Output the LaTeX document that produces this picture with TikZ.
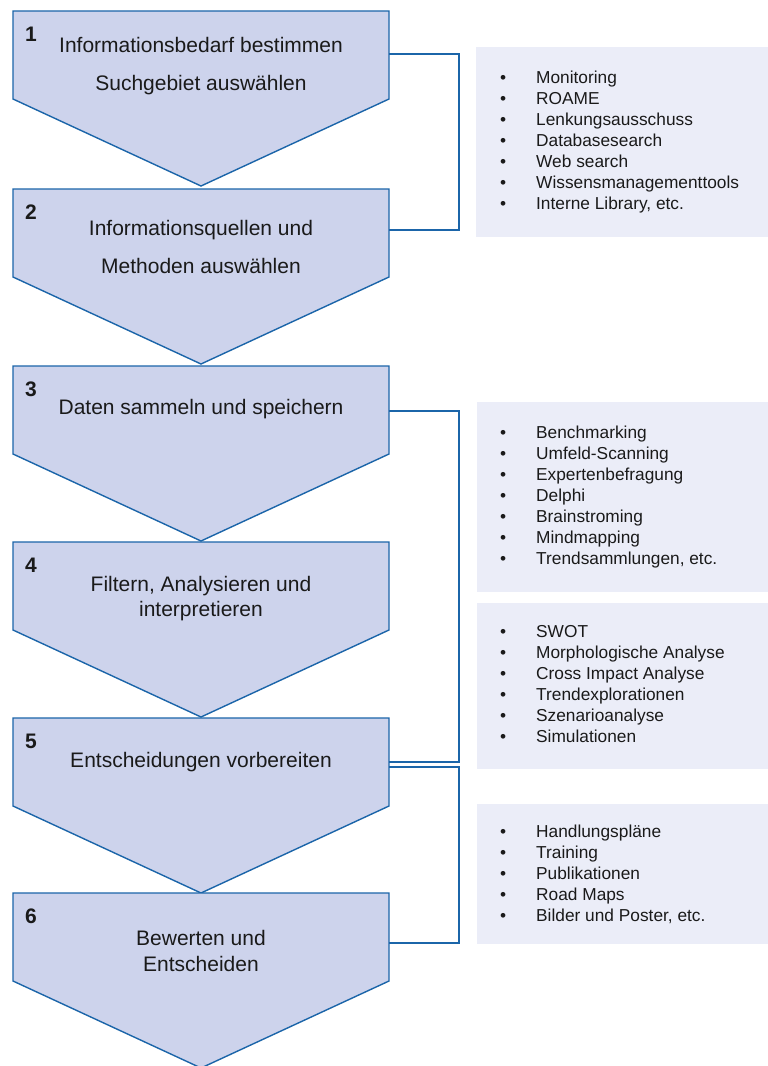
\documentclass[tikz,border=0pt]{standalone}
\usepackage{fontspec}
\setmainfont{Liberation Sans}
\definecolor{chevfill}{HTML}{CDD3EC}
\definecolor{chevline}{HTML}{1B65A9}
\definecolor{boxfill}{HTML}{EBEDF8}
\definecolor{ink}{HTML}{1A1A1A}
\tikzset{
  chev/.style={fill=chevfill, draw=chevline, line width=1.4pt, line join=miter},
  conn/.style={draw=chevline, line width=2pt},
  steplabel/.style={inner sep=0pt, text=ink, align=center, font=\fontsize{21}{25.5}\selectfont},
  widelabel/.style={steplabel, font=\fontsize{21}{38}\selectfont},
  stepnum/.style={inner sep=0pt, text=ink, font=\fontsize{21}{25}\selectfont\bfseries},
  listbox/.style={fill=boxfill, draw=none, inner sep=0pt, anchor=north west},
  listtext/.style={inner sep=0pt, anchor=west, text=ink, align=left, font=\fontsize{17.3}{21}\selectfont},
}
% one process step: arrow-shaped pentagon with its number
\newcommand\procstep[3]{% name, top edge, number
  \draw[chev] (13,#2) -- (389,#2) -- (389,{#2+88}) -- (201,{#2+175}) -- (13,{#2+88}) -- cycle;
  \node[stepnum] (#1num) at (31,{#2+23}) {#3};
}
\newcommand\itemlist[1]{\begin{tabular}{@{}p{36pt}@{}l@{}}#1\end{tabular}}
\begin{document}
\begin{tikzpicture}[x=1pt,y=-1pt]
\useasboundingbox (0,0) rectangle (768,1066);
\fill[white] (0,0) rectangle (768,1066);

% process steps
\procstep{s1}{11}{1}
\procstep{s2}{189}{2}
\procstep{s3}{366}{3}
\procstep{s4}{542}{4}
\procstep{s5}{718}{5}
\procstep{s6}{893}{6}

\node[widelabel] (t1) at (201,66.5) {Informationsbedarf bestimmen\\Suchgebiet auswählen};
\node[widelabel] (t2) at (201,246.5) {Informationsquellen und\\Methoden auswählen};
\node[steplabel] (t3) at (201,409) {Daten sammeln und speichern};
\node[steplabel] (t4) at (201,598.5) {Filtern, Analysieren und\\interpretieren};
\node[steplabel] (t5) at (201,762) {Entscheidungen vorbereiten};
\node[steplabel] (t6) at (201,951) {Bewerten und\\Entscheiden};

% side panels with methods
\node[listbox, minimum width=292pt, minimum height=190pt] (b1) at (476,47) {};
\node[listbox, minimum width=291pt, minimum height=190pt] (b2) at (477,402) {};
\node[listbox, minimum width=291pt, minimum height=166pt] (b3) at (477,603) {};
\node[listbox, minimum width=291pt, minimum height=140pt] (b4) at (477,804) {};

\node[listtext] (l1) at (500,142) {\itemlist{
 • & Monitoring\\ • & ROAME\\ • & Lenkungsausschuss\\ • & Databasesearch\\
 • & Web search\\ • & Wissensmanagementtools\\ • & Interne Library, etc.}};
\node[listtext] (l2) at (500,497) {\itemlist{
 • & Benchmarking\\ • & Umfeld-Scanning\\ • & Expertenbefragung\\ • & Delphi\\
 • & Brainstroming\\ • & Mindmapping\\ • & Trendsammlungen, etc.}};
\node[listtext] (l3) at (500,686) {\itemlist{
 • & SWOT\\ • & Morphologische Analyse\\ • & Cross Impact Analyse\\
 • & Trendexplorationen\\ • & Szenarioanalyse\\ • & Simulationen}};
\node[listtext] (l4) at (500,875) {\itemlist{
 • & Handlungspläne\\ • & Training\\ • & Publikationen\\ • & Road Maps\\
 • & Bilder und Poster, etc.}};

% brackets joining steps
\coordinate (s1out) at (389,54);
\coordinate (s2in)  at (389,230);
\coordinate (s3out) at (389,411);
\coordinate (s5in)  at (389,762);
\coordinate (s5out) at (389,767);
\coordinate (s6in)  at (389,943);
\draw[conn] (s1out) -- ++(70,0) |- (s2in);
\draw[conn] (s3out) -- ++(70,0) |- (s5in);
\draw[conn] (s5out) -- ++(70,0) |- (s6in);
\end{tikzpicture}
\end{document}
